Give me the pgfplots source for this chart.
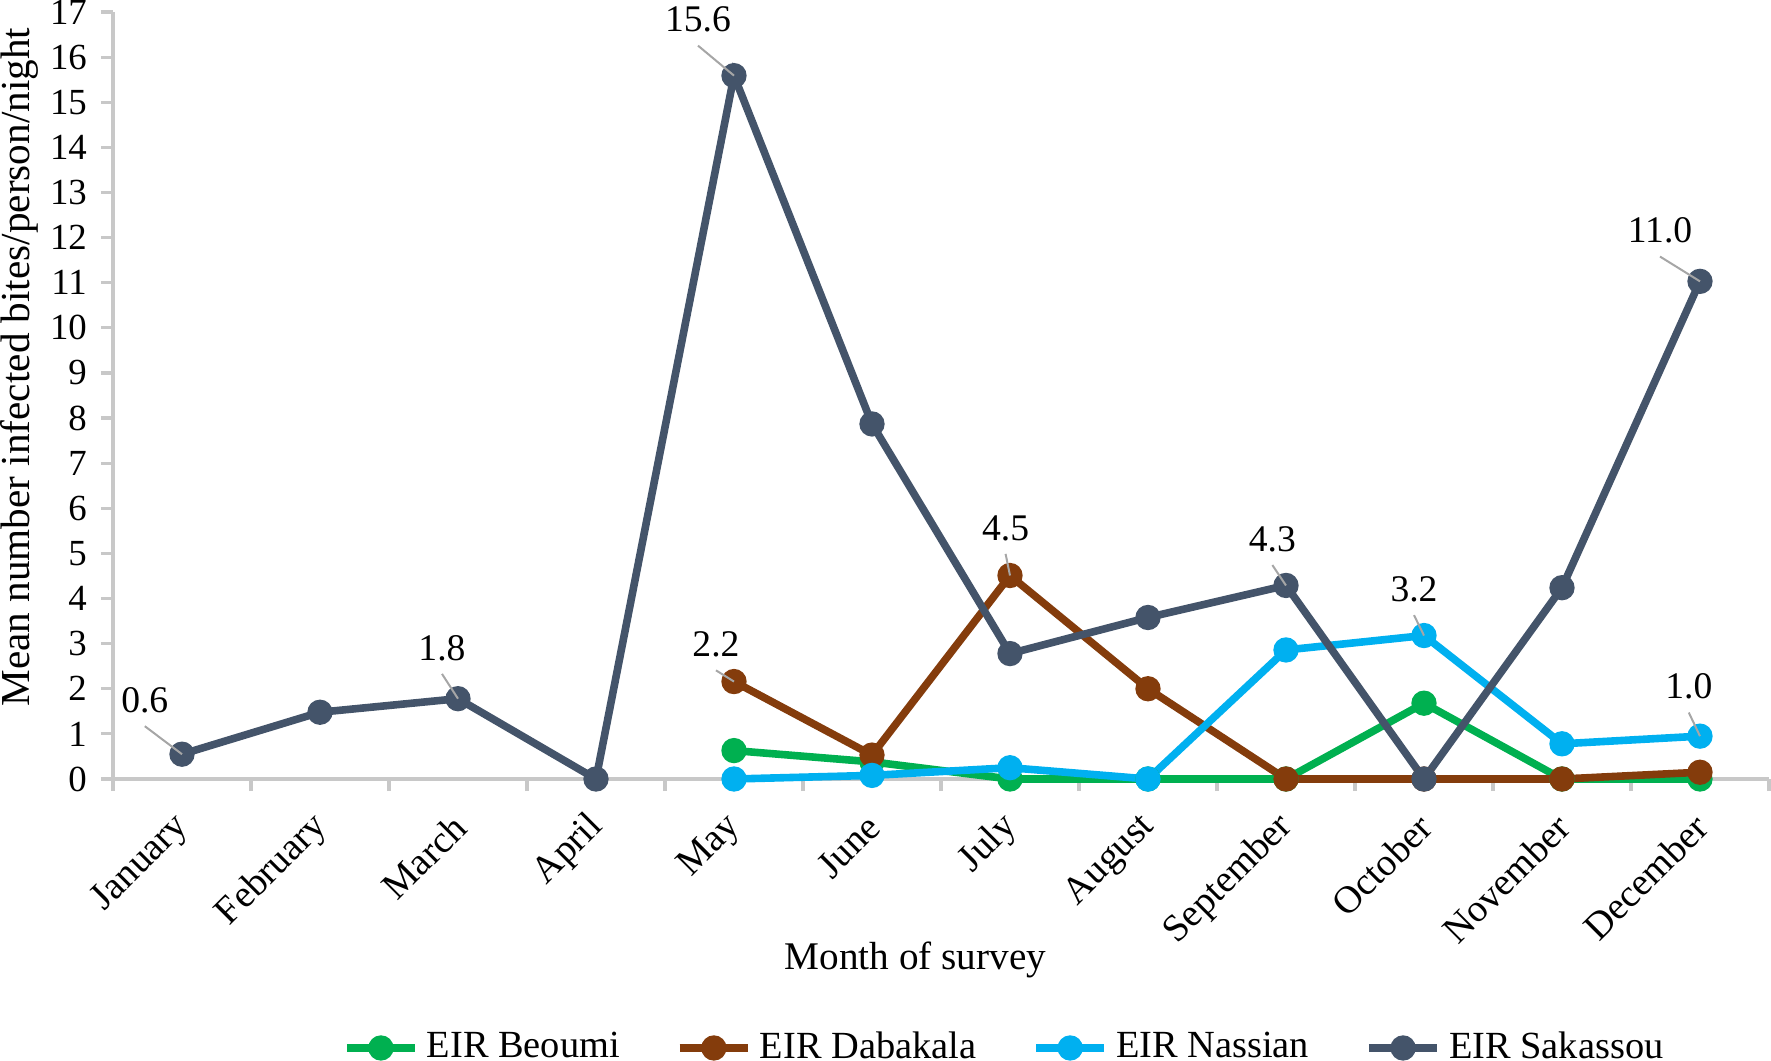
\documentclass[border=0pt]{standalone}
\usepackage{pgfplots}
\pgfplotsset{compat=1.18}
\usepackage{pgfplotstable}
\usepackage{fontspec}
\setmainfont{Liberation Serif}

\definecolor{cBeo}{HTML}{00B050}
\definecolor{cDab}{HTML}{843C0C}
\definecolor{cNas}{HTML}{00B0F0}
\definecolor{cSak}{HTML}{44546A}
\definecolor{axgray}{RGB}{200,200,200}
\definecolor{leadgray}{RGB}{166,166,166}

\pgfdeclareplotmark{leader}{%
  \pgfpathmoveto{\pgfpoint{\dx pt}{\dy pt - 6.5pt}}%
  \pgfpathlineto{\pgfpointorigin}%
  \pgfusepathqstroke}

\pgfplotstableread{
x y
0 0.55
1 1.48
2 1.78
3 0
4 15.59
5 7.87
6 2.78
7 3.58
8 4.29
9 0
10 4.24
11 11.03
}\sak

\pgfplotstableread{
x y
4 2.16
5 0.53
6 4.51
7 2.00
8 0
9 0
10 0
11 0.15
}\dab

\pgfplotstableread{
x y
4 0
5 0.08
6 0.25
7 0
8 2.86
9 3.18
10 0.78
11 0.95
}\nas

\pgfplotstableread{
x y
4 0.63
5 0.38
6 0
7 0
8 0
9 1.68
10 0
11 0
}\beo

\pgfplotstableread{
x y lab dx dy
0 0.55 0.6 -9.3 13.5
2 1.78 1.8 -4 12.7
4 15.59 15.6 -9 14
4 2.16 2.2 -4.5 9.3
6 4.51 4.5 -1.1 11.9
8 4.29 4.3 -3.4 11.6
9 3.18 3.2 -2.5 11.6
11 11.03 11.0 -10 12.7
11 0.95 1.0 -2.8 12.4
}\labs

\begin{document}
\begin{tikzpicture}
\begin{axis}[
  at={(0,0)}, anchor=south west,
  scale only axis, width=414pt, height=191.75pt,
  xmin=-0.5, xmax=11.5, ymin=0, ymax=17,
  axis lines*=left,
  axis line style={draw=axgray, line width=0.8pt},
  clip=false,
  xtick={-0.5,0.5,...,11.5}, xticklabels={},
  extra x ticks={0,1,2,3,4,5,6,7,8,9,10,11},
  extra x tick labels={January,February,March,April,May,June,July,August,September,October,November,December},
  extra x tick style={major tick length=0pt,
    tick label style={xshift=0.5pt, yshift=-10.5pt, rotate=45, anchor=east, inner sep=0pt,
      font=\fontsize{9.6}{10}\selectfont}},
  ytick={0,1,...,17},
  tick align=outside, major tick length=3pt,
  tick style={draw=axgray, line width=0.8pt},
  /pgf/number format/assume math mode=true,
  yticklabel style={font=\fontsize{9.2}{10}\selectfont},
  xlabel={Month of survey},
  xlabel style={at={(axis description cs:0.4846,-0.236)}, anchor=center, font=\fontsize{9.8}{11}\selectfont},
  ylabel={Mean number infected bites/person/night},
  ylabel style={at={(axis description cs:-0.0562,0.537)}, anchor=center, font=\fontsize{10.3}{11}\selectfont},
  legend style={at={(axis description cs:0.54,-0.3507)}, anchor=center, draw=none, fill=none,
    legend columns=4, font=\fontsize{9.6}{11}\selectfont,
    /tikz/every even column/.append style={column sep=12pt},
    /tikz/every odd column/.append style={column sep=0pt}},
  legend cell align=left,
]
\addplot[cBeo, line width=1.9pt, mark=*, mark size=2.2pt, mark options={solid}] table[x=x,y=y]{\beo};
\addlegendentry{EIR Beoumi}
\addplot[cDab, line width=1.9pt, mark=*, mark size=2.2pt, mark options={solid}] table[x=x,y=y]{\dab};
\addlegendentry{EIR Dabakala}
\addplot[cNas, line width=1.9pt, mark=*, mark size=2.2pt, mark options={solid}] table[x=x,y=y]{\nas};
\addlegendentry{EIR Nassian}
\addplot[cSak, line width=1.9pt, mark=*, mark size=2.2pt, mark options={solid}] table[x=x,y=y]{\sak};
\addlegendentry{EIR Sakassou}

\addplot[forget plot, scatter, only marks, mark=leader, point meta=y,
  scatter/use mapped color={draw=leadgray, fill=leadgray}, line width=0.5pt,
  visualization depends on={\thisrow{dx}\as\dx},
  visualization depends on={\thisrow{dy}\as\dy}]
  table[x=x,y=y]{\labs};

\addplot[forget plot, draw=none, mark=none, point meta=explicit symbolic, nodes near coords,
  visualization depends on={\thisrow{dx}\as\dx},
  visualization depends on={\thisrow{dy}\as\dy},
  every node near coord/.style={xshift=\dx pt, yshift=\dy pt, anchor=center, inner sep=0pt,
    text=black, font=\fontsize{9.4}{10}\selectfont}]
  table[x=x,y=y,meta=lab]{\labs};
\end{axis}
\pgfresetboundingbox
\path[use as bounding box] (-28.25pt,-70.5pt) rectangle (414.5pt,194.75pt);
\end{tikzpicture}
\end{document}
